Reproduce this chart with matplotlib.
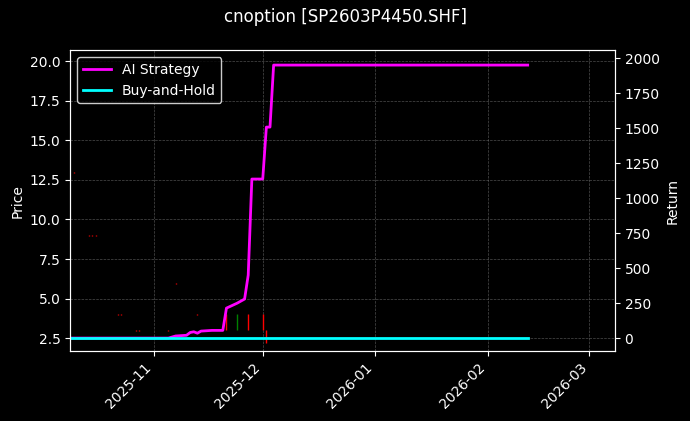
import matplotlib
matplotlib.use("Agg")
import matplotlib.pyplot as plt
import matplotlib.dates as mdates
import pandas as pd

plt.style.use("dark_background")

candle_dates = ["2025-10-10","2025-10-14","2025-10-15","2025-10-16","2025-10-20","2025-10-22","2025-10-23",
                "2025-10-27","2025-10-28","2025-10-30","2025-11-05","2025-11-07","2025-11-13",
                "2025-11-21","2025-11-24","2025-11-27","2025-12-01","2025-12-02"]
c_open  = [13.0, 9.0, 9.0, 9.0, 5.0, 4.0, 4.0, 3.0, 3.0, 5.0, 3.0, 6.0, 4.0, 4.0, 3.0, 4.0, 4.0, 3.0]
c_close = [12.95,8.95,8.95,8.95,4.95,3.95,3.95,2.95,2.95,4.95,2.95,5.95,3.95,3.0, 4.0, 3.0, 3.0, 2.2]

ret_dates = ["2025-10-09","2025-11-05","2025-11-07","2025-11-10","2025-11-11","2025-11-12","2025-11-13",
             "2025-11-14","2025-11-17","2025-11-20","2025-11-21","2025-11-24","2025-11-26","2025-11-27",
             "2025-11-28","2025-12-01","2025-12-02","2025-12-03","2025-12-04","2026-02-12"]
ai_ret = [0, 0, 15, 20, 40, 45, 35, 50, 55, 55, 214, 250, 279, 450,
          1136, 1136, 1507, 1507, 1950, 1950]
bh_ret = [0]*len(ret_dates)

fig, ax = plt.subplots(figsize=(6.9, 4.21), dpi=100)
fig.patch.set_facecolor("black")
ax.set_facecolor("black")
cd = pd.to_datetime(candle_dates)
for d, o, c in zip(cd, c_open, c_close):
    col = "green" if c > o else "red"
    ax.vlines(d, min(o, c), max(o, c), color=col, linewidth=1)
ax.set_ylim(1.68, 20.7)
ax.set_ylabel("Price")
ax.grid(True, color="gray", linestyle="--", linewidth=0.5, alpha=0.6)

ax2 = ax.twinx()
rd = pd.to_datetime(ret_dates)
ax2.plot(rd, ai_ret, color="magenta", linewidth=2, label="AI Strategy")
ax2.plot(rd, bh_ret, color="cyan", linewidth=2, label="Buy-and-Hold")
ax2.set_ylim(-93, 2057)
ax2.set_ylabel("Return")
ax2.legend(loc="upper left", facecolor="black", edgecolor="white")

ax.set_xlim(pd.Timestamp("2025-10-09"), pd.Timestamp("2026-03-08"))
ax.xaxis.set_major_locator(mdates.MonthLocator())
ax.xaxis.set_major_formatter(mdates.DateFormatter("%Y-%m"))
plt.setp(ax.get_xticklabels(), rotation=45, ha="right")
fig.suptitle("cnoption [SP2603P4450.SHF]")
fig.subplots_adjust(left=0.102, right=0.891, top=0.881, bottom=0.166)
fig.savefig("out.png", facecolor="black")
